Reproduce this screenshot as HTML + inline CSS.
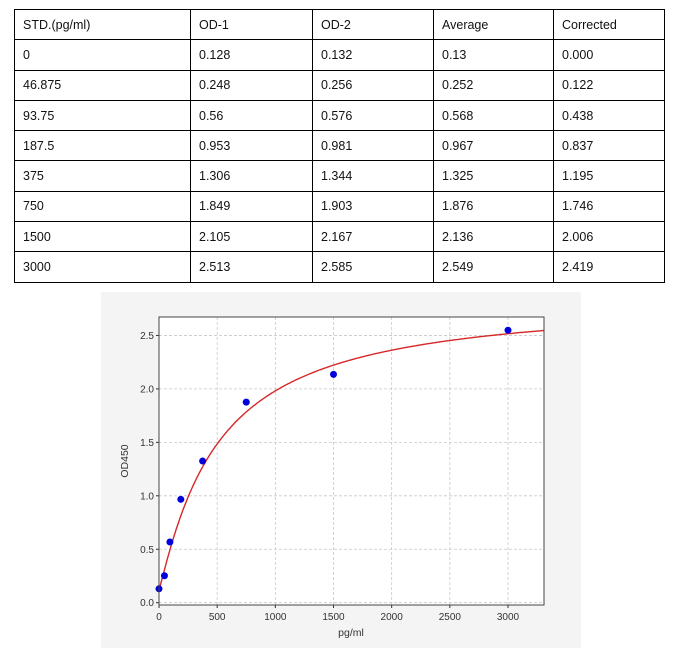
<!DOCTYPE html>
<html><head><meta charset="utf-8"><style>
body{margin:0;background:#fff;width:696px;height:652px;overflow:hidden;font-family:"Liberation Sans",sans-serif}
table{position:absolute;left:14px;top:9px;border-collapse:collapse;font-size:12.5px;color:#111}
td{border:1px solid #000;height:30.3px;padding:0 0 0 8px;box-sizing:border-box}
</style></head><body>
<table>
<tr><td style="width:176px">STD.(pg/ml)</td><td style="width:122px">OD-1</td><td style="width:121px">OD-2</td><td style="width:120px">Average</td><td style="width:111px">Corrected</td></tr>
<tr><td>0</td><td>0.128</td><td>0.132</td><td>0.13</td><td>0.000</td></tr>
<tr><td>46.875</td><td>0.248</td><td>0.256</td><td>0.252</td><td>0.122</td></tr>
<tr><td>93.75</td><td>0.56</td><td>0.576</td><td>0.568</td><td>0.438</td></tr>
<tr><td>187.5</td><td>0.953</td><td>0.981</td><td>0.967</td><td>0.837</td></tr>
<tr><td>375</td><td>1.306</td><td>1.344</td><td>1.325</td><td>1.195</td></tr>
<tr><td>750</td><td>1.849</td><td>1.903</td><td>1.876</td><td>1.746</td></tr>
<tr><td>1500</td><td>2.105</td><td>2.167</td><td>2.136</td><td>2.006</td></tr>
<tr><td>3000</td><td>2.513</td><td>2.585</td><td>2.549</td><td>2.419</td></tr>
</table>
<svg id="s" style="position:absolute;left:0;top:0" width="696" height="652" font-family="Liberation Sans, DejaVu Sans, sans-serif"></svg>
<script>
var s=document.getElementById('s'),h='';
h+='<rect x="101" y="292" width="480" height="356" fill="#f4f4f4"/>';
var L=159,R=544,T=317,B=605;
h+='<rect x="'+L+'" y="'+T+'" width="'+(R-L)+'" height="'+(B-T)+'" fill="#fff"/>';
function X(v){return 159+v*349/3000}function Y(v){return 602.7-v*106.9}
for(var v=0;v<=3000;v+=500){var x=X(v);h+='<line x1="'+x+'" y1="'+T+'" x2="'+x+'" y2="'+B+'" stroke="#c8c8c8" stroke-width="0.8" stroke-dasharray="3,2"/>';
h+='<line x1="'+x+'" y1="'+B+'" x2="'+x+'" y2="'+(B+3)+'" stroke="#333"/><text x="'+x+'" y="'+(B+15)+'" font-size="10" text-anchor="middle" fill="#333">'+v+'</text>';}
for(var i=0;i<=5;i++){var v=i*0.5,y=Y(v);h+='<line x1="'+L+'" y1="'+y+'" x2="'+R+'" y2="'+y+'" stroke="#c8c8c8" stroke-width="0.8" stroke-dasharray="3,2"/>';
h+='<line x1="'+(L-3)+'" y1="'+y+'" x2="'+L+'" y2="'+y+'" stroke="#333"/><text x="'+(L-5)+'" y="'+(y+3.5)+'" font-size="10" text-anchor="end" fill="#333">'+v.toFixed(1)+'</text>';}
var p='';for(var x=0;x<=3310;x+=10){var y=2.85-2.73/(1+Math.pow(x/500,1.1));p+=(x?'L':'M')+X(x).toFixed(1)+','+Y(y).toFixed(1);}
h+='<path d="'+p+'" fill="none" stroke="#d62728" stroke-width="1.4"/>';
[[0,.13],[46.875,.252],[93.75,.568],[187.5,.967],[375,1.325],[750,1.876],[1500,2.136],[3000,2.549]].forEach(function(d){h+='<circle cx="'+X(d[0])+'" cy="'+Y(d[1])+'" r="3.5" fill="#0000dd"/>';});
h+='<rect x="'+L+'" y="'+T+'" width="'+(R-L)+'" height="'+(B-T)+'" fill="none" stroke="#444" stroke-width="1"/>';
h+='<text x="351" y="636" font-size="10.5" text-anchor="middle" fill="#333">pg/ml</text>';
h+='<text transform="translate(128,461) rotate(-90)" font-size="10.5" text-anchor="middle" fill="#333">OD450</text>';
s.innerHTML=h;
</script>
</body></html>
